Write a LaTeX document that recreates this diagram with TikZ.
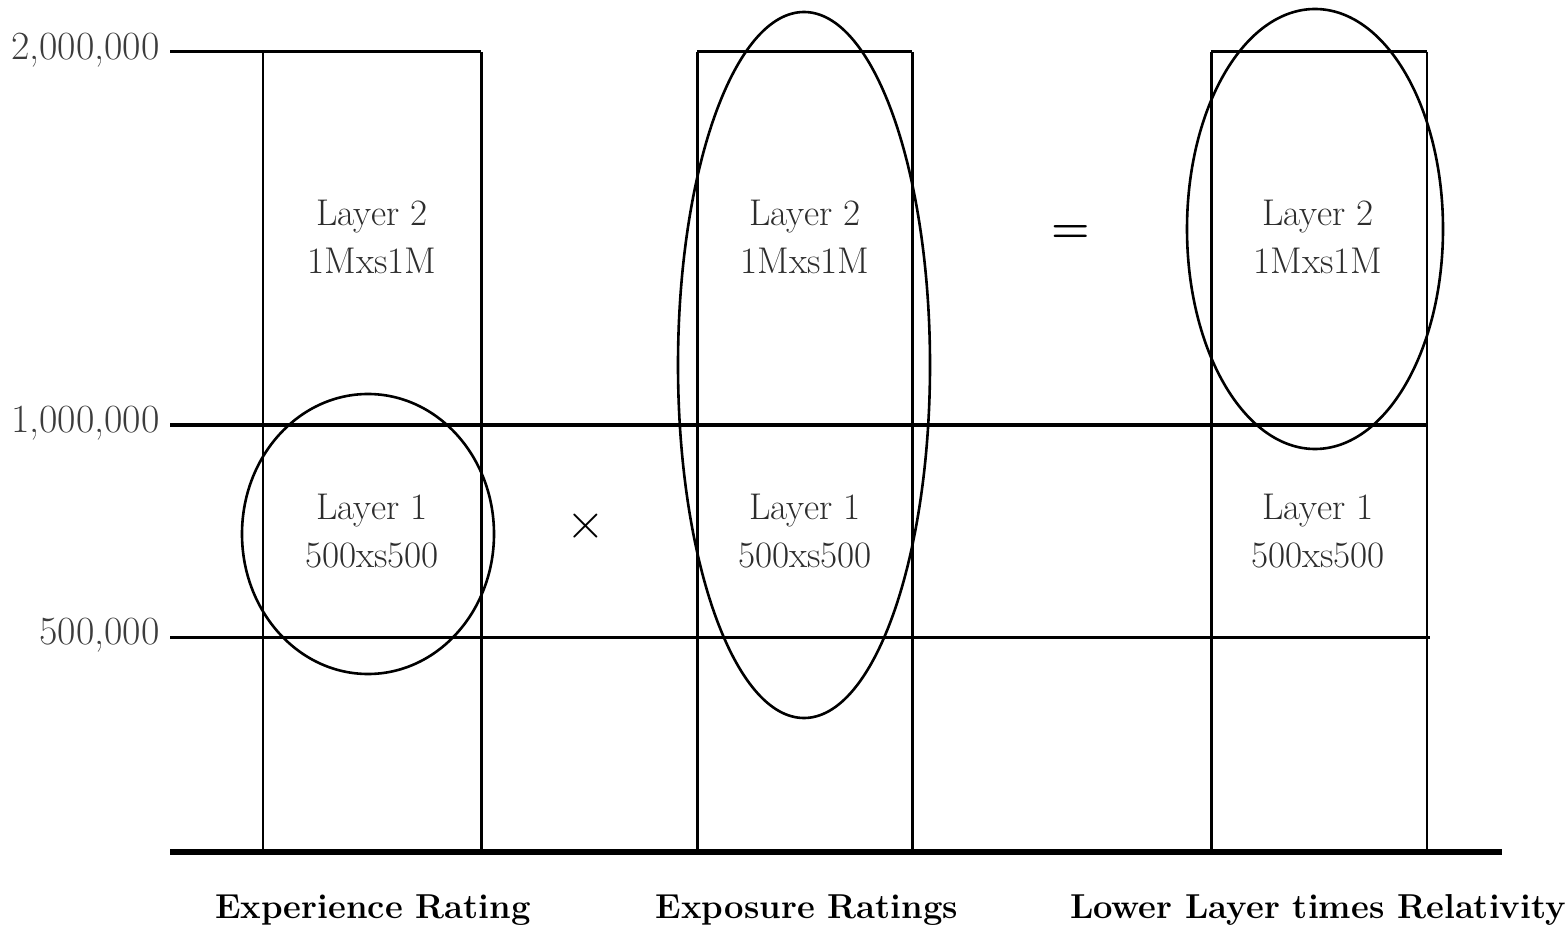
\documentclass[tikz,border=0pt]{standalone}
\usetikzlibrary{shapes.geometric}
\definecolor{axtext}{RGB}{60,60,60}
\definecolor{laytext}{RGB}{45,45,45}
\begin{document}
\begin{tikzpicture}[x=0.5pt,y=-0.5pt,
  hline/.style={line width=1.5pt},
  thinv/.style={line width=0.55pt},
  thickv/.style={line width=1.5pt},
  base/.style={line width=3pt},
  oval/.style={line width=1.3pt},
  axlabel/.style={anchor=east,text=axtext,font=\fontsize{20}{22}\selectfont,inner sep=0pt},
  laylabel/.style={align=center,text=laytext,font=\fontsize{18.6}{24}\selectfont,inner sep=0pt},
  caption/.style={text=black,font=\fontsize{17.3}{19}\selectfont\bfseries,inner sep=0pt},
  opsym/.style={inner sep=0pt}]
\useasboundingbox (0,0) rectangle (1568,930);
% axis labels
\node[axlabel] (l2m) at (160,50) {2,000,000};
\node[axlabel] (l1m) at (160,423) {1,000,000};
\node[axlabel] (l500) at (160,635) {500,000};
% horizontal lines
\coordinate (a2) at (170,52);
\coordinate (a1) at (170,425);
\coordinate (a5) at (170,637);
\coordinate (ab) at (170,852);
\draw[hline] (a2) -- (481,52);
\draw[hline] (a1) -- (1427,425);
\draw[hline] (a5) -- (1430,637);
% box 1
\draw[thinv] (263,52) -- (263,852);
\draw[thickv] (481,52) -- (481,852);
% box 2
\draw[hline] (697,52) -- (912,52);
\draw[thickv] (697,52) -- (697,852);
\draw[thickv] (912,52) -- (912,852);
% box 3
\draw[hline] (1211,52) -- (1427,52);
\draw[thickv] (1211,52) -- (1211,852);
\draw[thinv] (1427,52) -- (1427,852);
% baseline
\draw[base] (ab) -- (1502,852);
% layer labels
\node[laylabel] (b1l2) at (372,237) {Layer 2\\1Mxs1M};
\node[laylabel] (b1l1) at (372,531) {Layer 1\\500xs500};
\node[laylabel] (b2l2) at (805,237) {Layer 2\\1Mxs1M};
\node[laylabel] (b2l1) at (805,531) {Layer 1\\500xs500};
\node[laylabel] (b3l2) at (1318,237) {Layer 2\\1Mxs1M};
\node[laylabel] (b3l1) at (1318,531) {Layer 1\\500xs500};
% ellipses
\draw[oval] (368,534) ellipse [x radius=126, y radius=140];
\draw[oval] (804,365) ellipse [x radius=126, y radius=353];
\draw[oval] (1315,229) ellipse [x radius=128, y radius=220];
% operators
\node[opsym,font=\fontsize{28}{30}\selectfont] (times) at (586,526) {$\times$};
\node[opsym,font=\fontsize{22}{24}\selectfont] (equals) at (1071,234) {\textbf{=}};
% captions
\node[caption] (c1) at (373,910) {Experience Rating};
\node[caption] (c2) at (807,910) {Exposure Ratings};
\node[caption] (c3) at (1318,910) {Lower Layer times Relativity};
\end{tikzpicture}
\end{document}
